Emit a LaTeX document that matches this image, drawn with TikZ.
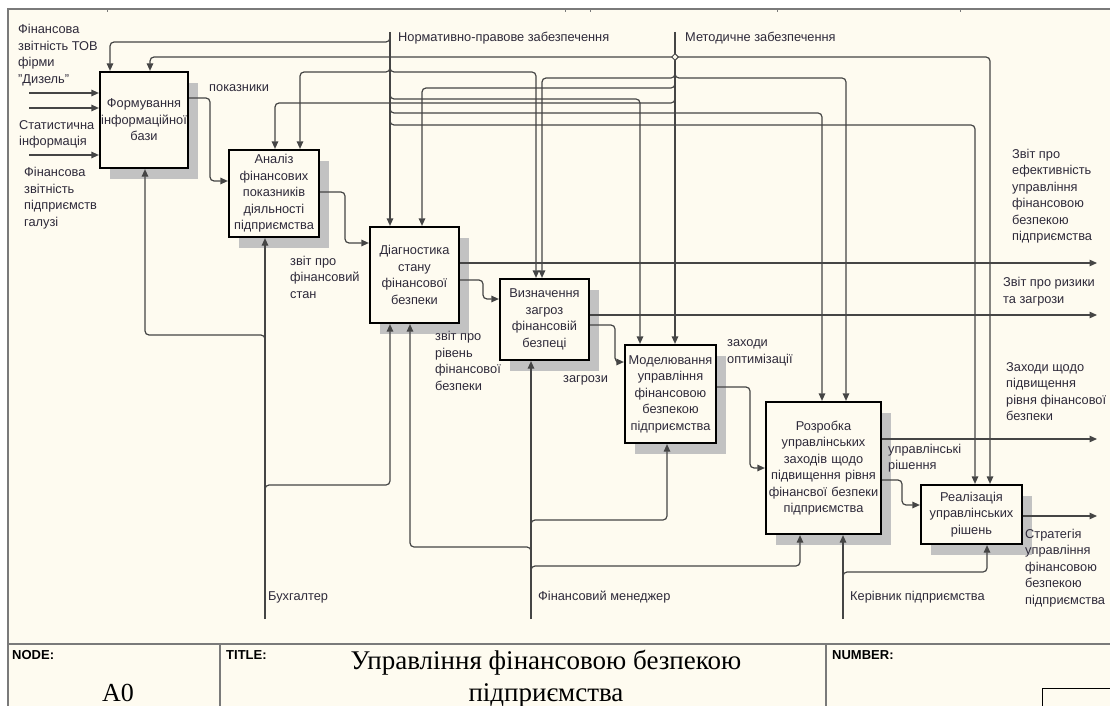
\documentclass[tikz,border=0pt]{standalone}
\usepackage{fontspec}
\setmainfont{Liberation Sans}
\newfontfamily\seriffont{Liberation Serif}
\usetikzlibrary{arrows.meta,calc,shapes.geometric,shadows}
\definecolor{bg}{HTML}{FEFBF0}
\definecolor{ln}{HTML}{454545}
\definecolor{shd}{HTML}{C2C2C2}
\definecolor{txt}{HTML}{2E2A3A}
\definecolor{frm}{HTML}{7A7A7A}
\begin{document}
\begin{tikzpicture}[x=1pt,y=-1pt,
  box/.style={draw=black,line width=2.2pt,fill=bg,inner sep=1pt,align=center,
    text=txt,font=\fontsize{12.8}{16.5}\selectfont,
    drop shadow={shadow xshift=10pt,shadow yshift=-11pt,fill=shd,opacity=1}},
  conn/.style={draw=ln,line width=1.2pt,rounded corners=4pt},
  arr/.style={conn,-{Triangle[length=7.5pt,width=6.5pt]}},
  lbl/.style={text=txt,font=\fontsize{12.8}{16.5}\selectfont,align=left,inner sep=0pt,anchor=west},
  foot/.style={text=black,font=\fontsize{13}{15}\selectfont\bfseries,inner sep=0pt,anchor=west},
  junc/.style={diamond,draw=ln,line width=1pt,fill=bg,inner sep=0pt,minimum size=7pt}]
\useasboundingbox (0,0) rectangle (1110,706);
\fill[white] (0,0) rectangle (1110,706);
\fill[bg] (8,9) rectangle (1110,706);
\draw[frm,line width=1.5pt] (8,706) -- (8,9) -- (1110,9);
\foreach \tx in {107,565,590,777,960} \draw[frm,line width=0.8pt] (\tx,9) -- (\tx,12);

% boxes
\node[box,minimum width=88pt,minimum height=96pt,text width=86pt] (b1) at (144,120)
  {Формування\\інформаційної\\бази};
\node[box,minimum width=90pt,minimum height=87pt,text width=88pt] (b2) at (274,193.5)
  {Аналіз\\фінансових\\показників\\діяльності\\підприємства};
\node[box,minimum width=89pt,minimum height=96pt,text width=87pt] (b3) at (414.5,275)
  {Діагностика\\стану\\фінансової\\безпеки};
\node[box,minimum width=89pt,minimum height=81pt,text width=87pt] (b4) at (544.5,319.5)
  {Визначення\\загроз\\фінансовій\\безпеці};
\node[box,minimum width=89pt,minimum height=98pt,text width=89pt] (b5) at (670.5,394)
  {Моделювання\\управління\\фінансовою\\безпекою\\підприємства};
\node[box,minimum width=115pt,minimum height=132pt,text width=112pt] (b6) at (823.5,468)
  {Розробка\\управлінських\\заходів щодо\\підвищення рівня\\фінансвої безпеки\\підприємства};
\node[box,minimum width=101pt,minimum height=59pt,text width=98pt] (b7) at (971.5,514.5)
  {Реалізація\\управлінських\\рішень};

% free ends
\coordinate (in1) at (29,93);
\coordinate (in2) at (29,108);
\coordinate (in3) at (29,155);
\coordinate (nt) at (390,32);
\coordinate (mt) at (675,32);
\coordinate (o1) at (1097,263);
\coordinate (o2) at (1097,315);
\coordinate (o3) at (1097,439);
\coordinate (o4) at (1097,516);
\coordinate (mb) at (265,619);
\coordinate (mf) at (531,619);
\coordinate (mk) at (843,619);

% inputs
\draw[arr] (in1) -- (in1 -| b1.west);
\draw[arr] (in2) -- (in2 -| b1.west);
\draw[arr] (in3) -- (in3 -| b1.west);

% controls: normative
\draw[arr] (nt) -- (nt |- b3.north);
\draw[arr] (390,36) |- (110,42) -- (b1.north -| 110,0);
\draw[arr] (390,66) |- (300,72) -- (b2.north -| 300,0);
\draw[arr] (390,66) |- (536,72) -- (b4.north -| 536,0);
\draw[arr] (390,93) |- (640,99) -- (b5.north -| 640,0);
\draw[arr] (390,107) |- (822,113) -- (b6.north -| 822,0);
\draw[arr] (390,119) |- (975,125) -- (b7.north -| 975,0);
% controls: methodical
\draw[arr] (mt) -- (mt |- b5.north);
\draw[arr] (675,57) -| (b1.north -| 150,0);
\draw[arr] (675,57) -| (b7.north -| 990,0);
\draw[arr] (675,72) |- (542,78) -- (b4.north -| 542,0);
\draw[arr] (675,72) |- (846,78) -- (b6.north -| 846,0);
\draw[arr] (675,82) |- (422,88) -- (b3.north -| 422,0);
\draw[arr] (675,97) |- (275,103) -- (b2.north -| 275,0);
\node[junc] (jm) at (675,57) {};

% outputs
\draw[arr] (b1.east |- 0,98) -| (210,181) -- (b2.west |- 0,181);
\draw[arr] (b2.east |- 0,192) -| (345,243) -- (b3.west |- 0,243);
\draw[arr] (b3.east |- 0,263) -- (o1);
\draw[arr] (b3.east |- 0,280) -| (483,299) -- (b4.west |- 0,299);
\draw[arr] (b4.east |- 0,315) -- (o2);
\draw[arr] (b4.east |- 0,325) -| (615,362) -- (b5.west |- 0,362);
\draw[arr] (b5.east |- 0,387) -| (750,468) -- (b6.west |- 0,468);
\draw[arr] (b6.east |- 0,439) -- (o3);
\draw[arr] (b6.east |- 0,480) -| (902,505) -- (b7.west |- 0,505);
\draw[arr] (b7.east |- 0,516) -- (o4);

% mechanisms
\draw[arr] (mb) -- (mb |- b2.south);
\draw[arr] (265,341) |- (145,335) -- (b1.south -| 145,0);
\draw[arr] (265,491) |- (390,485) -- (b3.south -| 390,0);
\draw[arr] (mf) -- (mf |- b4.south);
\draw[arr] (531,526) |- (667,520) -- (b5.south -| 667,0);
\draw[arr] (531,553) |- (410,547) -- (b3.south -| 410,0);
\draw[arr] (531,572) |- (800,566) -- (b6.south -| 800,0);
\draw[arr] (mk) -- (mk |- b6.south);
\draw[arr] (843,578) |- (987,572) -- (b7.south -| 987,0);

% labels
\node[lbl] (t1) at (18,55) {Фінансова\\звітність ТОВ\\фірми\\\symbol{34}Дизель\symbol{34}};
\node[lbl] (t2) at (19,134.5) {Статистична\\інформація};
\node[lbl] (t3) at (24,198) {Фінансова\\звітність\\підприємств\\галузі};
\node[lbl] (t4) at (209,88) {показники};
\node[lbl] (t5) at (290,277) {звіт про\\фінансовий\\стан};
\node[lbl] (t6) at (435,361) {звіт про\\рівень\\фінансової\\безпеки};
\node[lbl] (t7) at (563,380) {загрози};
\node[lbl] (t8) at (727,353) {заходи\\оптимізації};
\node[lbl] (t9) at (888,458) {управлінські\\рішення};
\node[lbl] (t10) at (1012,196) {Звіт про\\ефективність\\управління\\фінансовою\\безпекою\\підприємства};
\node[lbl] (t11) at (1003,291.5) {Звіт про ризики\\та загрози};
\node[lbl] (t12) at (1006,391.5) {Заходи щодо\\підвищення\\рівня фінансової\\безпеки};
\node[lbl] (t13) at (1025,568) {Стратегія\\управління\\фінансовою\\безпекою\\підприємства};
\node[lbl] (t14) at (268,597) {Бухгалтер};
\node[lbl] (t15) at (538,597) {Фінансовий менеджер};
\node[lbl] (t16) at (850,597) {Керівник підприємства};
\node[lbl] (t17) at (398,38) {Нормативно-правове забезпечення};
\node[lbl] (t18) at (685,38) {Методичне забезпечення};

% footer
\draw[frm,line width=1.6pt] (8,644) -- (1110,644);
\draw[frm,line width=1.2pt] (220,644) -- (220,706);
\draw[frm,line width=1.2pt] (826,644) -- (826,706);
\draw[black,line width=1pt] (1042,688) rectangle (1115,712);
\node[foot] (f1) at (12,655) {NODE:};
\node[foot] (f2) at (226,655) {TITLE:};
\node[foot] (f3) at (832,655) {NUMBER:};
\node[font=\seriffont\fontsize{26}{32}\selectfont,inner sep=0pt] (f4) at (118,693) {A0};
\node[font=\seriffont\fontsize{27}{32}\selectfont,align=center,inner sep=0pt] (f5) at (546,679)
  {Управління фінансовою безпекою\\підприємства};
\end{tikzpicture}
\end{document}
